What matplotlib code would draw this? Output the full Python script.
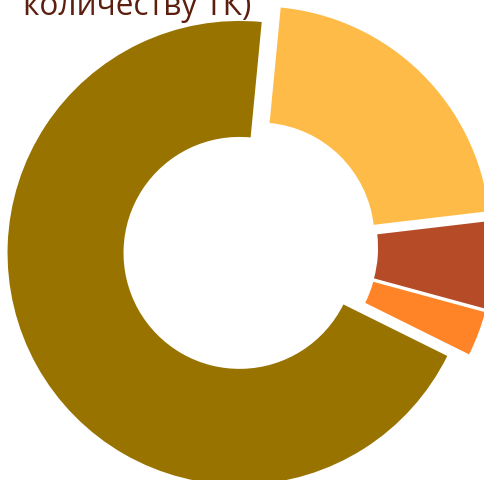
import numpy as np
import matplotlib
matplotlib.use("Agg")
import matplotlib.pyplot as plt

# shares, clockwise from the top
labels = ["A", "B", "C", "D"]
values = [21.6, 6.1, 3.1, 69.2]
colors = ["#FFBB47", "#B54B27", "#FF8427", "#997300"]
explode = [0.052, 0.052, 0.052, 0.052]

fig = plt.figure(figsize=(4.85, 4.81), dpi=100)
ax = fig.add_axes([0, 0, 1, 1])

ax.pie(values, colors=colors, explode=explode, startangle=84.5,
       counterclock=False, radius=1.0,
       wedgeprops=dict(width=0.5, edgecolor="none"))

ax.set_xlim(-1.078, 1.013)
ax.set_ylim(-1.004, 1.069)
ax.set_aspect("equal")
ax.axis("off")

# second line of the title, the first is cut off by the frame
fig.text(23 / 485, 1 - 15 / 481, "количеству ТК)", fontsize=22.7,
         color="#5C1E0E", family="Open Sans", ha="left", va="baseline")

fig.savefig("out.png", dpi=100)
